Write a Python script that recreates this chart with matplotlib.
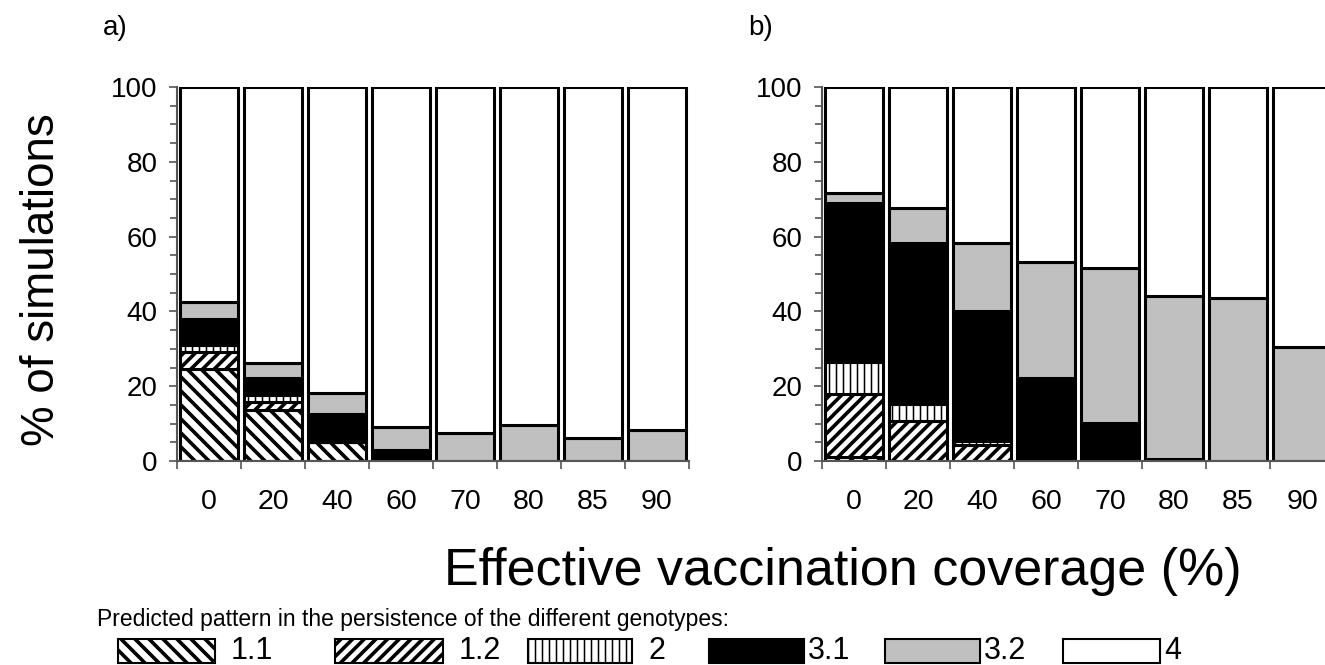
import numpy as np
import matplotlib as mpl
import matplotlib.pyplot as plt
from matplotlib.patches import Rectangle
from matplotlib.ticker import MultipleLocator, FixedLocator

# dpi chosen so the hatch spacing matches the original
DPI = 210
W, H = 1325, 665


def p(v):
    # sizes below are written as points at 100 dpi
    return v * 100 / DPI


plt.rcParams['font.family'] = ['Liberation Sans', 'DejaVu Sans']
plt.rcParams['hatch.linewidth'] = p(2.6)

coverage = ['0', '20', '40', '60', '70', '80', '85', '90']
patterns = ['1.1', '1.2', '2', '3.1', '3.2', '4']

# panel a, % of simulations per pattern (4 = the remainder)
a_p11 = [24.6, 13.6, 5.2, 0, 0, 0, 0, 0]
a_p12 = [4.5, 2.3, 0, 0, 0, 0, 0, 0]
a_p2 = [1.9, 1.7, 0, 0, 0, 0, 0, 0]
a_p31 = [7.1, 4.5, 7.5, 2.9, 0, 0, 0, 0]
a_p32 = [4.5, 4.0, 5.6, 6.3, 7.6, 9.5, 6.2, 8.3]

# panel b
b_p11 = [1.0, 0, 0, 0, 0, 0, 0, 0]
b_p12 = [16.8, 10.8, 4.3, 0, 0, 0, 0, 0]
b_p2 = [8.8, 4.4, 1.0, 0, 0, 0, 0, 0]
b_p31 = [42.5, 43.2, 34.9, 22.3, 10.2, 0.6, 0, 0]
b_p32 = [2.6, 9.2, 18.0, 30.8, 41.3, 43.5, 43.5, 30.6]

colors = ['white', 'white', 'white', 'black', '#c0c0c0', 'white']
hatches = ['\\' * 5, '/' * 6, '|' * 5, None, None, None]
hatch_lw = [p(2.6), p(2.6), p(1.1), None, None, None]


def set_hlw(patch, lw):
    if lw is not None and hasattr(patch, 'set_hatch_linewidth'):
        patch.set_hatch_linewidth(lw)


def stacked(ax, parts):
    x = np.arange(len(coverage))
    base = np.zeros(len(coverage))
    rest = 100 - np.sum(parts, axis=0)
    for vals, c, h, hl in zip(list(parts) + [rest], colors, hatches, hatch_lw):
        vals = np.array(vals)
        bars = ax.bar(x, vals, 0.9, bottom=base, color=c, hatch=h,
                      edgecolor='black', linewidth=p(2.2), zorder=2)
        for b in bars:
            set_hlw(b, hl)
        base = base + vals
    ax.set_xlim(-0.5, len(coverage) - 0.5)
    ax.set_ylim(0, 100)
    ax.set_xticks(x)
    ax.set_xticklabels(coverage, fontsize=p(20.5))
    ax.tick_params(axis='x', which='major', length=0, pad=p(20))
    ax.xaxis.set_minor_locator(FixedLocator(np.arange(-0.5, len(coverage), 1)))
    ax.tick_params(axis='x', which='minor', length=p(6), width=p(1.2), color='#555555')
    ax.set_yticks(range(0, 101, 20))
    ax.yaxis.set_minor_locator(MultipleLocator(5))
    ax.tick_params(axis='y', which='major', length=p(6), width=p(1.2), pad=p(8),
                   labelsize=p(20), color='#555555')
    ax.tick_params(axis='y', which='minor', length=p(5), width=p(1.2), color='#555555')
    for s in ['top', 'right']:
        ax.spines[s].set_visible(False)
    for s in ['left', 'bottom']:
        ax.spines[s].set_color('#555555')
        ax.spines[s].set_linewidth(p(1.5))


fig = plt.figure(figsize=(W / DPI, H / DPI), dpi=DPI)
ax_a = fig.add_axes([177 / W, 1 - 461 / H, 512 / W, 374 / H])
ax_b = fig.add_axes([822 / W, 1 - 461 / H, 512 / W, 374 / H])
stacked(ax_a, [a_p11, a_p12, a_p2, a_p31, a_p32])
stacked(ax_b, [b_p11, b_p12, b_p2, b_p31, b_p32])

fig.text(103 / W, 1 - 28 / H, 'a)', fontsize=p(20), ha='left', va='center')
fig.text(748 / W, 1 - 28 / H, 'b)', fontsize=p(20), ha='left', va='center')
fig.text(42 / W, 1 - 280 / H, '% of simulations', fontsize=p(33),
         rotation=90, ha='center', va='center')
fig.text(843 / W, 1 - 572 / H, 'Effective vaccination coverage (%)',
         fontsize=p(37.5), ha='center', va='center')
fig.text(97 / W, 1 - 626 / H,
         'Predicted pattern in the persistence of the different genotypes:',
         fontsize=p(16.5), ha='left', va='baseline')

# legend keys, placed in figure pixels
key_x = [118, 335, 528, 709, 885, 1063]
key_w = [97, 108, 104, 95, 95, 97]
for lab, c, h, hl, kx, kw in zip(patterns, colors, hatches, hatch_lw, key_x, key_w):
    r = Rectangle((kx / W, 1 - 663 / H), kw / W, 24 / H,
                  transform=fig.transFigure, facecolor=c, hatch=h,
                  edgecolor='black', linewidth=p(1.5))
    set_hlw(r, hl)
    fig.patches.append(r)
    gap = 4 if c != 'white' or lab == '4' else 16
    fig.text((kx + kw + gap) / W, 1 - 651 / H, lab, fontsize=p(22),
             ha='left', va='center')

fig.savefig('out.png', dpi=DPI)
